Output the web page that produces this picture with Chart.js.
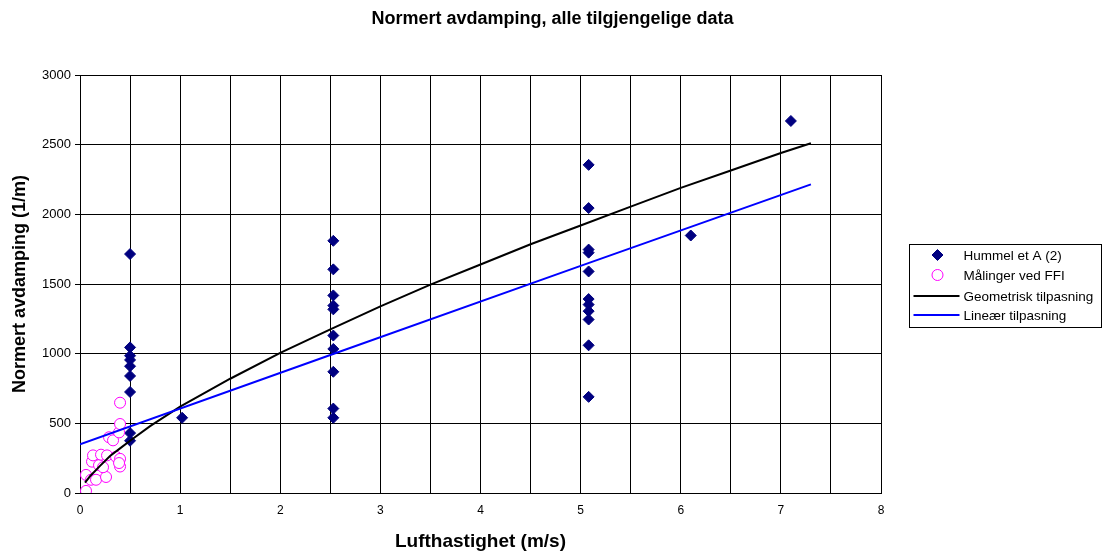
<!DOCTYPE html>
<html>
<head>
<meta charset="utf-8">
<script src="https://cdn.jsdelivr.net/npm/chart.js@4/dist/chart.umd.min.js"></script>
<style>
  body { margin: 0; background: #fff; }
  #wrap { width: 1105px; height: 555px; }
</style>
</head>
<body>
<div id="wrap"><canvas id="avdamping"></canvas></div>
<script>
// Hummel et A (2)
const hummelX = [0.5, 0.5, 0.5, 0.5, 0.5, 0.5, 0.5, 0.5, 0.5,
  1.02,
  2.53, 2.53, 2.53, 2.53, 2.53, 2.53, 2.53, 2.53, 2.53, 2.53,
  5.08, 5.08, 5.08, 5.08, 5.08, 5.08, 5.08, 5.08, 5.08, 5.08, 5.08,
  6.1, 7.1]
const hummelY = [1715, 1045, 985, 955, 910, 840, 725, 430, 375,
  540,
  1810, 1605, 1418, 1345, 1318, 1130, 1034, 870, 606, 540,
  2355, 2045, 1747, 1725, 1590, 1392, 1352, 1305, 1245, 1060, 690,
  1848, 2670]

// Målinger ved FFI
const ffiX = [0.06, 0.06, 0.11, 0.16, 0.26, 0.12, 0.19, 0.23, 0.13, 0.21,
  0.27, 0.36, 0.40, 0.40, 0.39, 0.29, 0.33, 0.39, 0.40, 0.40]
const ffiY = [15, 130, 95, 95, 115, 225, 200, 185, 270, 275,
  270, 260, 245, 190, 215, 400, 378, 435, 495, 648]

// Geometrisk tilpasning
const geoX = [0.05, 0.1, 0.2, 0.3, 0.4, 0.5, 0.7, 1, 1.5, 2, 2.5, 3, 3.5, 4, 4.5, 5, 5.5, 6, 6.5, 7, 7.3]
const geoY = [75, 120, 195, 265, 320, 375, 480, 620, 820, 1005, 1175, 1340, 1495, 1640, 1785, 1920, 2055, 2190, 2315, 2440, 2510]

// Lineær tilpasning
const linX = [0, 2.5, 5, 7.3]
const linY = [350, 990, 1630, 2215]

const seriesNames = ['Hummel et A (2)', 'Målinger ved FFI', 'Geometrisk tilpasning', 'Lineær tilpasning']
const chartTitle = 'Normert avdamping, alle tilgjengelige data'

const FONT = '"Liberation Sans", Arial, sans-serif'

const toPoints = (xs, ys) => xs.map((x, i) => ({ x: x, y: ys[i] }))

// title centred on the whole canvas (the built-in one centres over the padded box)
const pageTitle = {
  id: 'pageTitle',
  afterDraw (chart) {
    const ctx = chart.ctx
    ctx.save()
    ctx.font = 'bold 18px ' + FONT
    ctx.fillStyle = '#000'
    ctx.textAlign = 'center'
    ctx.textBaseline = 'middle'
    ctx.fillText(chartTitle, chart.width / 2, 19)
    ctx.restore()
  }
}

// legend with a frame, like the original
const boxLegend = {
  id: 'boxLegend',
  afterDraw (chart) {
    const ctx = chart.ctx
    const left = Math.round(chart.chartArea.right) + 28.5
    const top = 244.5
    ctx.save()
    ctx.strokeStyle = '#000'
    ctx.lineWidth = 1
    ctx.strokeRect(left, top, 192, 83)
    const rows = [255, 275, 296, 315]
    ctx.font = '13.5px ' + FONT
    ctx.textBaseline = 'middle'
    chart.data.datasets.forEach((ds, i) => {
      const y = rows[i]
      if (ds.showLine) {
        ctx.strokeStyle = ds.borderColor
        ctx.lineWidth = 2
        ctx.beginPath()
        ctx.moveTo(left + 4, y)
        ctx.lineTo(left + 50, y)
        ctx.stroke()
      } else {
        ctx.fillStyle = ds.backgroundColor
        ctx.strokeStyle = ds.borderColor
        ctx.lineWidth = 1
        Chart.helpers.drawPoint(ctx, { pointStyle: ds.pointStyle, radius: ds.pointRadius, rotation: 0, borderWidth: 1 }, left + 28, y)
      }
      ctx.fillStyle = '#000'
      ctx.fillText(ds.label, left + 54, y + 1)
    })
    ctx.restore()
  }
}

const ctx = document.querySelector('#avdamping')
const avdampingChart = new Chart(ctx, {
  type: 'scatter',
  data: {
    datasets: [
      {
        label: seriesNames[0],
        data: toPoints(hummelX, hummelY),
        pointStyle: 'rectRot',
        pointRadius: 5.5,
        backgroundColor: '#000080',
        borderColor: '#000080',
        borderWidth: 1,
        order: 3
      },
      {
        label: seriesNames[1],
        data: toPoints(ffiX, ffiY),
        pointStyle: 'circle',
        pointRadius: 5.5,
        backgroundColor: '#ffffff',
        borderColor: '#ff00ff',
        borderWidth: 1,
        order: 2
      },
      {
        label: seriesNames[2],
        data: toPoints(geoX, geoY),
        showLine: true,
        pointRadius: 0,
        borderColor: '#000000',
        backgroundColor: '#000000',
        borderWidth: 2,
        order: 1
      },
      {
        label: seriesNames[3],
        data: toPoints(linX, linY),
        showLine: true,
        pointRadius: 0,
        borderColor: '#0000ff',
        backgroundColor: '#0000ff',
        borderWidth: 2,
        order: 0
      }
    ]
  },
  options: {
    responsive: true,
    maintainAspectRatio: false,
    animation: false,
    layout: { padding: { top: 75, right: 224, bottom: 0, left: 0 } },
    plugins: {
      legend: { display: false },
      tooltip: { enabled: false },
      title: { display: false }
    },
    scales: {
      x: {
        type: 'linear',
        min: 0,
        max: 8,
        afterFit (scale) { scale.height = 62 },
        ticks: {
          stepSize: 0.5,
          autoSkip: false,
          maxRotation: 0,
          padding: 10,
          color: '#000',
          font: { family: FONT, size: 12 },
          callback: (v) => (v % 1 === 0 ? v : '')
        },
        grid: { color: '#000', lineWidth: 1, drawTicks: false },
        border: { color: '#000', width: 1 },
        title: {
          display: true,
          text: 'Lufthastighet (m/s)',
          color: '#000',
          font: { family: FONT, size: 19, weight: 'bold' },
          padding: { top: 2, bottom: 2 }
        }
      },
      y: {
        min: 0,
        max: 3000,
        afterFit (scale) { scale.width = 80 },
        ticks: {
          stepSize: 500,
          padding: 4,
          color: '#000',
          font: { family: FONT, size: 13 },
          callback: (v) => String(v)
        },
        grid: { color: '#000', lineWidth: 1, tickLength: 5 },
        border: { color: '#000', width: 1 },
        title: {
          display: true,
          text: 'Normert avdamping (1/m)',
          color: '#000',
          font: { family: FONT, size: 18, weight: 'bold' },
          padding: { top: 9, bottom: 4 }
        }
      }
    }
  },
  plugins: [pageTitle, boxLegend]
})
</script>
</body>
</html>
